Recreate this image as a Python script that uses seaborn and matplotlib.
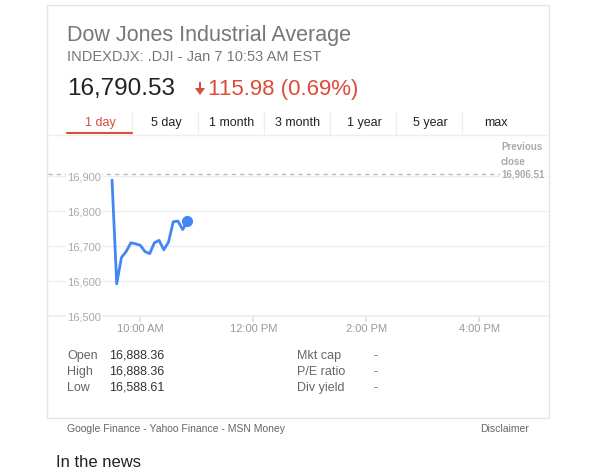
import pandas as pd
import matplotlib.pyplot as plt
import seaborn as sns
from matplotlib.patches import Rectangle, Polygon
from matplotlib.lines import Line2D

# ================================
# Data
# ================================
times = ["09:30", "09:35", "09:40", "09:45", "09:50", "09:55", "10:00", "10:05",
         "10:10", "10:15", "10:20", "10:25", "10:30", "10:35", "10:40", "10:45", "10:50"]
prices = [16888, 16592, 16667, 16684, 16709, 16706, 16702, 16684,
          16678, 16709, 16716, 16689, 16711, 16769, 16771, 16747, 16770]
prev_close = 16906.51
y_ticks = [16500, 16600, 16700, 16800, 16900]
x_ticks = [10, 12, 14, 16]
x_tick_labels = ["10:00 AM", "12:00 PM", "2:00 PM", "4:00 PM"]
tabs = ["1 day", "5 day", "1 month", "3 month", "1 year", "5 year", "max"]
stats_left = [("Open", "16,888.36"), ("High", "16,888.36"), ("Low", "16,588.61")]
stats_right = [("Mkt cap", "-"), ("P/E ratio", "-"), ("Div yield", "-")]

df = pd.DataFrame({"time": times, "price": prices})
t = pd.to_datetime(df["time"], format="%H:%M")
df["hour"] = t.dt.hour + t.dt.minute / 60

# ================================
# Figure setup
# ================================
sns.set_theme(style="white")
plt.rcParams["font.family"] = ["Liberation Sans", "DejaVu Sans"]

W, H = 600, 467
fig = plt.figure(figsize=(6, 4.67), dpi=100)
fig.patch.set_facecolor("white")

def fx(x):
    return x / W

def fy(y):
    return 1 - y / H

# card with a soft shadow (behind everything)
fig.patches.append(Rectangle((fx(48), fy(419)), 502 / W, 413 / H, transform=fig.transFigure,
                             facecolor="#ececec", edgecolor="none", zorder=-6))
fig.patches.append(Rectangle((fx(47), fy(418)), 502 / W, 413 / H, transform=fig.transFigure,
                             facecolor="white", edgecolor="#e4e4e4", lw=1, zorder=-5))

# header
fig.text(fx(67), fy(35), "Dow Jones Industrial Average", fontsize=15.5, color="#777777", va="center")
fig.text(fx(67), fy(57), "INDEXDJX: .DJI - Jan 7 10:53 AM EST", fontsize=10.5, color="#777777", va="center")
fig.text(fx(67), fy(89), "16,790.53", fontsize=17.5, color="#222222", va="center")
# down arrow
red = "#dd4b39"
fig.patches.append(Rectangle((fx(199), fy(89)), 2 / W, 7 / H, transform=fig.transFigure,
                             facecolor=red, edgecolor="none"))
fig.patches.append(Polygon([(fx(195), fy(88)), (fx(205), fy(88)), (fx(200), fy(95))],
                           transform=fig.transFigure, facecolor=red, edgecolor="none"))
fig.text(fx(208), fy(89), "115.98 (0.69%)", fontsize=16, color=red, va="center")

# tabs
tab_w = 66
for i, name in enumerate(tabs):
    cx = 100 + i * tab_w
    fig.text(fx(cx), fy(123), name, fontsize=9, ha="center", va="center",
             color=red if i == 0 else "#222222")
    if i > 0:
        sx = 132 + (i - 1) * tab_w
        fig.add_artist(Line2D([fx(sx), fx(sx)], [fy(112), fy(134)], color="#eeeeee", lw=1))
fig.add_artist(Line2D([fx(67), fx(132)], [fy(133), fy(133)], color=red, lw=1.5))
fig.add_artist(Line2D([fx(48), fx(548)], [fy(135), fy(135)], color="#eeeeee", lw=1))

# ================================
# Chart
# ================================
ax = fig.add_axes([fx(48), fy(316), 500 / W, 179 / H])
ax.set_facecolor("none")
sns.lineplot(data=df, x="hour", y="price", ax=ax, color="#4285f4", lw=2, zorder=4)
ax.plot(df["hour"].iloc[-1], df["price"].iloc[-1], "o", color="#4285f4", ms=7, zorder=5)
ax.axhline(prev_close, color="#bbbbbb", lw=1, ls=(0, (3, 3)), zorder=1)

ax.set_xlim(8.367, 17.217)
ax.set_ylim(16500, 17011)
ax.set_yticks(y_ticks)
ax.set_yticklabels([])
ax.tick_params(axis="y", length=0)
ax.set_xticks(x_ticks)
ax.set_xticklabels(x_tick_labels)
ax.tick_params(axis="x", bottom=True, length=4, color="#e0e0e0", labelcolor="#999999",
               labelsize=8, pad=2)
ax.grid(axis="y", color="#eeeeee", lw=1)
ax.set_axisbelow(True)
ax.set_xlabel("")
ax.set_ylabel("")
for s in ["top", "right", "left"]:
    ax.spines[s].set_visible(False)
ax.spines["bottom"].set_color("#eeeeee")

ytr = ax.get_yaxis_transform()
for v in y_ticks:
    ax.text(0.038, v - 4, f"{v:,}", transform=ytr, fontsize=8, color="#aaaaaa", va="center",
            zorder=3, bbox=dict(facecolor="white", edgecolor="none", pad=0.5))
ax.text(0.906, prev_close - 2, f"{prev_close:,.2f}", transform=ytr, fontsize=7, color="#aaaaaa",
        fontweight="bold", ha="left", va="center", zorder=3,
        bbox=dict(facecolor="white", edgecolor="none", pad=1))
ax.text(0.906, prev_close + 20, "Previous\nclose", transform=ytr, fontsize=7, color="#aaaaaa",
        fontweight="bold", ha="left", va="bottom", linespacing=1.55, zorder=3)

# ================================
# Stats & footer
# ================================
for i, (k, v) in enumerate(stats_left):
    fig.text(fx(67), fy(356 + 16 * i), k, fontsize=9, color="#666666", va="center")
    fig.text(fx(109), fy(356 + 16 * i), v, fontsize=9, color="#333333", va="center")
for i, (k, v) in enumerate(stats_right):
    fig.text(fx(297), fy(356 + 16 * i), k, fontsize=9, color="#666666", va="center")
    fig.text(fx(373), fy(356 + 16 * i), v, fontsize=9, color="#666666", va="center")

fig.text(fx(67), fy(429), "Google Finance - Yahoo Finance - MSN Money", fontsize=7.5, color="#666666", va="center")
fig.text(fx(529), fy(429), "Disclaimer", fontsize=7.5, color="#666666", va="center", ha="right")
fig.text(fx(56), fy(455), "In the news", fontsize=12, color="#222222", va="top")

fig.savefig("out.png", dpi=100)
